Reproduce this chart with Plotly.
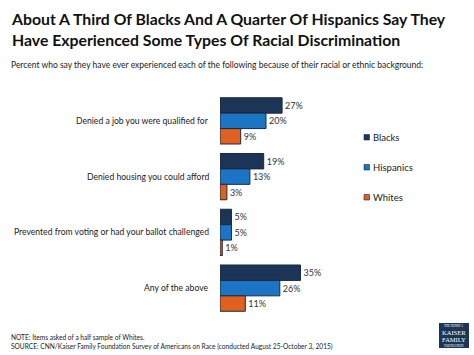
import plotly.graph_objects as go

categories = ["Denied a job you were qualified for",
              "Denied housing you could afford",
              "Prevented from voting or had your ballot challenged",
              "Any of the above"]
series_names = ["Blacks", "Hispanics", "Whites"]
blacks = [27, 19, 5, 35]
hispanics = [20, 13, 5, 26]
whites = [9, 3, 1, 11]
colors = ["#1c3557", "#1c74c4", "#e0601f"]

W, H = 474, 355
L, R, T, B = 220, 116, 93, 39
PW, PH = W - L - R, H - T - B


def px(x):
    return (x - L) / PW


def py(y):
    return (H - B - y) / PH


fig = go.Figure()
for name, vals, col in zip(series_names, [blacks, hispanics, whites], colors):
    fig.add_trace(go.Bar(
        y=categories, x=vals, name=name, orientation="h",
        marker=dict(color=col, line=dict(color="#1a2a40", width=1)),
        text=[f"{v}%" for v in vals], textposition="outside",
        textfont=dict(size=9, color="#333333", family="Lato"),
        cliponaxis=False, showlegend=False,
    ))

fig.update_layout(
    width=W, height=H,
    margin=dict(l=L, r=R, t=T, b=B),
    paper_bgcolor="white", plot_bgcolor="white",
    barmode="group", bargap=0.17, bargroupgap=0,
    font=dict(family="Lato", color="#222222"),
    xaxis=dict(range=[0, 60], visible=False),
    yaxis=dict(autorange="reversed", showticklabels=False, showline=False,
               showgrid=False, zeroline=False, ticks=""),
)

# legend (drawn manually to match small square markers)
for i, (name, col) in enumerate(zip(series_names, colors)):
    yc = 137 + 30 * i
    fig.add_shape(type="rect", xref="paper", yref="paper",
                  x0=px(364), x1=px(369.5), y0=py(yc + 3), y1=py(yc - 2.5),
                  fillcolor=col, line=dict(color="#1a2a40", width=0.6))
    fig.add_annotation(x=px(371), y=py(yc), xref="paper", yref="paper",
                       text=name, xanchor="left", yanchor="middle", showarrow=False,
                       font=dict(size=9.5, color="#222222", family="Lato"))

for c in categories:
    fig.add_annotation(x=0, y=c, xref="paper", yref="y", text=c,
                       xanchor="right", xshift=-9, showarrow=False,
                       font=dict(size=8.6, color="#222222", family="Lato"))

fig.add_annotation(x=px(9), y=py(7), xref="paper", yref="paper",
                   xanchor="left", yanchor="top", align="left", showarrow=False,
                   text="<b>About A Third Of Blacks And A Quarter Of Hispanics Say They<br>Have Experienced Some Types Of Racial Discrimination</b>",
                   font=dict(size=15.8, color="#111111", family="Lato"))
fig.add_annotation(x=px(9), y=py(58), xref="paper", yref="paper",
                   xanchor="left", yanchor="top", showarrow=False,
                   text="Percent who say they have ever experienced each of the following because of their racial or ethnic background:",
                   font=dict(size=8.5, color="#222222", family="Lato"))
fig.add_annotation(x=px(9), y=py(331), xref="paper", yref="paper",
                   xanchor="left", yanchor="top", align="left", showarrow=False,
                   text="NOTE: Items asked of a half sample of Whites.<br>SOURCE: CNN/Kaiser Family Foundation Survey of Americans on Race (conducted August 25-October 3, 2015)",
                   font=dict(size=6.6, color="#222222", family="Lato"))

# logo
fig.add_shape(type="rect", xref="paper", yref="paper",
              x0=px(439), x1=px(469), y0=py(348), y1=py(323),
              fillcolor="#1c3557", line=dict(width=0))
for txt, yy, sz in [("THE HENRY J.", 326, 3), ("KAISER", 332, 6.5), ("FAMILY", 339, 6.5), ("FOUNDATION", 345.5, 3)]:
    fig.add_annotation(x=px(454), y=py(yy), xref="paper", yref="paper",
                       text=txt, showarrow=False, xanchor="center", yanchor="middle",
                       font=dict(size=sz, color="white", family="Liberation Serif"))

fig.write_html("out.html", config={"displayModeBar": False},
               post_script="document.body.style.margin='0';")
